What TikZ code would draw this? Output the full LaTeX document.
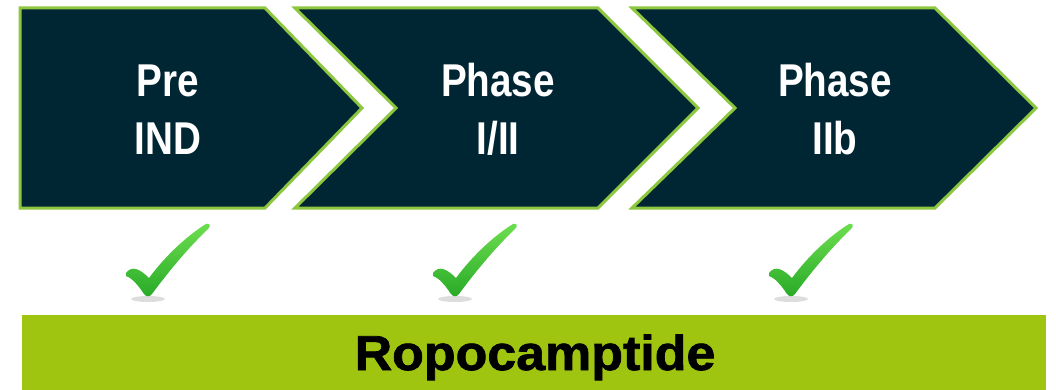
\documentclass[tikz,border=0pt]{standalone}
\usepackage{fontspec}
\setmainfont{Liberation Sans}[BoldFont={Liberation Sans Bold}]
\newfontfamily\narrowbold{Liberation Sans Bold}[FakeStretch=0.84]
\newfontfamily\widebold{Liberation Sans Bold}[FakeStretch=1.06,FakeBold=1.5]
\definecolor{navy}{RGB}{0,38,52}
\definecolor{lime}{RGB}{141,198,63}
\definecolor{bar}{RGB}{160,197,16}
\definecolor{chklight}{RGB}{110,222,80}
\definecolor{chkdark}{RGB}{40,170,40}
\tikzset{
  chevron/.style={fill=navy, draw=lime, line width=3pt, line join=miter},
  phasetext/.style={text=white, font=\narrowbold\fontsize{46}{58}\selectfont, align=center},
  barstyle/.style={fill=bar, draw=none},
  checkmark/.pic={
    \fill[gray!45, opacity=0.6] (0,4) ellipse (17 and 3);
    \shade[top color=chklight, bottom color=chkdark, shading angle=0]
      (-22,-22) .. controls (-16,-30) and (-8,-26) .. (1,-17)
      .. controls (18,-40) and (40,-60) .. (58,-71)
      .. controls (62,-72) and (63,-69) .. (60,-66)
      .. controls (38,-45) and (18,-20) .. (4,-1)
      .. controls (2,2) and (-2,2) .. (-4,-1)
      .. controls (-10,-10) and (-16,-17) .. (-22,-19) -- cycle;
  }
}
\begin{document}
\begin{tikzpicture}[x=1pt,y=-1pt]
\path[use as bounding box] (0,0) rectangle (1056,390);
% chevrons
\path[chevron] (20,8) -- (265,8) -- (362,108) -- (265,208) -- (20,208) -- cycle;
\path[chevron] (295,8) -- (598,8) -- (698,108) -- (598,208) -- (295,208) -- (396,108) -- cycle;
\path[chevron] (632,8) -- (935,8) -- (1036,108) -- (935,208) -- (632,208) -- (735,108) -- cycle;
% texts
\node[phasetext, anchor=base] (t1a) at (168,97) {Pre};
\node[phasetext, anchor=base] (t1b) at (168,155) {IND};
\node[phasetext, anchor=base] (t2a) at (498,97) {Phase};
\node[phasetext, anchor=base] (t2b) at (498,155) {I/II};
\node[phasetext, anchor=base] (t3a) at (835,97) {Phase};
\node[phasetext, anchor=base] (t3b) at (835,155) {IIb};
% checkmarks
\pic at (148,295) {checkmark};
\pic at (455,295) {checkmark};
\pic at (791,295) {checkmark};
% bar
\path[barstyle] (22,315) rectangle (1046,390);
\node[anchor=base, font=\widebold\fontsize{49}{58}\selectfont, text=black] (name) at (535,370) {Ropocamptide};
\end{tikzpicture}
\end{document}
